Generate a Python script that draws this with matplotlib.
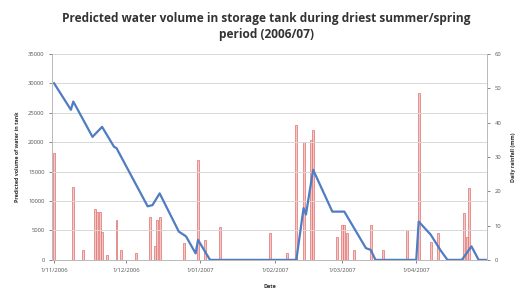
"""Predicted tank volume vs daily rainfall, Nov 2006 - Apr 2007."""
import matplotlib
matplotlib.use('Agg')
import matplotlib.pyplot as plt
import pandas as pd

START = pd.Timestamp('2006-11-01')

# volume in tank (litres), day offsets from 1/11/2006
vol_days = [0, 7, 8, 16, 20, 25, 26, 39, 41, 44, 52, 55, 59, 60, 65, 101, 104,
            105, 108, 116, 121, 130, 132, 134, 151, 152, 157, 161, 164, 170,
            174, 177, 180]
volume = [30000, 25500, 26900, 20900, 22600, 19200, 19000, 9100, 9300, 11300,
          4800, 4000, 1100, 3400, 0, 0, 8800, 7700, 15300, 8200, 8200, 2000,
          1700, 0, 0, 6500, 4300, 1700, 0, 0, 2300, 0, 0]

# daily rainfall (mm)
rain_days = [0, 8, 12, 17, 18, 19, 20, 22, 26, 28, 34, 40, 42, 43, 44, 54, 60,
             63, 69, 90, 97, 101, 104, 107, 108, 118, 120, 121, 122, 125, 132,
             137, 147, 152, 157, 160, 171, 172, 173]
rainfall = [31, 21.3, 2.9, 14.7, 14, 14, 8.2, 1.5, 11.6, 2.9, 2.1, 12.6, 3.9,
            11.6, 12.6, 4.9, 29.1, 5.8, 9.7, 7.8, 2, 39.3, 34.4, 34.9, 37.8, 6.8,
            10.2, 10.2, 7.8, 2.9, 10.2, 2.9, 8.7, 48.5, 5.3, 7.8, 13.6, 6.8, 20.9]

tick_dates = ['2006-11-01', '2006-12-01', '2007-01-01', '2007-02-01',
              '2007-03-01', '2007-04-01']
tick_labels = ['1/11/2006', '1/12/2006', '1/01/2007', '1/02/2007',
               '1/03/2007', '1/04/2007']


def to_dates(days):
    return START + pd.to_timedelta(days, unit='D')


def plot_tank() -> None:
    plt.rcParams['font.family'] = ['Open Sans', 'DejaVu Sans']
    fig = plt.figure(figsize=(5.22, 2.96), dpi=100)
    ax = fig.add_axes([0.1, 0.122, 0.833, 0.696])
    ax2 = ax.twinx()
    ax.set_zorder(ax2.get_zorder() + 1)
    ax.patch.set_visible(False)

    ax2.bar(to_dates(rain_days), rainfall, width=0.8, color='#f6c6c3',
            edgecolor='#e07070', linewidth=0.5)
    ax.plot(to_dates(vol_days), volume, color='#4f7cc2', linewidth=1.6)

    ax.set_ylim(0, 35000)
    ax.set_yticks(range(0, 35001, 5000))
    ax2.set_ylim(0, 60)
    ax2.set_yticks(range(0, 61, 10))
    ax.set_xlim(START - pd.Timedelta(days=0.8), START + pd.Timedelta(days=180.5))
    ax.set_xticks(pd.to_datetime(tick_dates))
    ax.set_xticklabels(tick_labels)

    ax.grid(axis='y', color='#d8d8d8', linewidth=0.7)
    ax.set_axisbelow(True)
    for a in (ax, ax2):
        a.tick_params(labelsize=4.2, colors='#555555', length=2, width=0.5)
        for s in a.spines.values():
            s.set_color('#bbbbbb')
            s.set_linewidth(0.7)
        a.spines['top'].set_visible(False)

    ax.set_ylabel('Predicted volume of water in tank', fontsize=3.9,
                  fontweight='bold', color='#333333', labelpad=6)
    ax2.set_ylabel('Daily rainfall (mm)', fontsize=3.9, fontweight='bold',
                   color='#333333', labelpad=7)
    ax.set_xlabel('Date', fontsize=3.9, fontweight='bold', color='#333333',
                  labelpad=8)
    fig.suptitle('Predicted water volume in storage tank during driest summer/spring\n'
                 'period (2006/07)', fontsize=8.6, fontweight='bold',
                 color='#333333', x=0.51, y=0.958, linespacing=1.3)
    fig.savefig('out.png', dpi=100)


if __name__ == '__main__':
    plot_tank()
